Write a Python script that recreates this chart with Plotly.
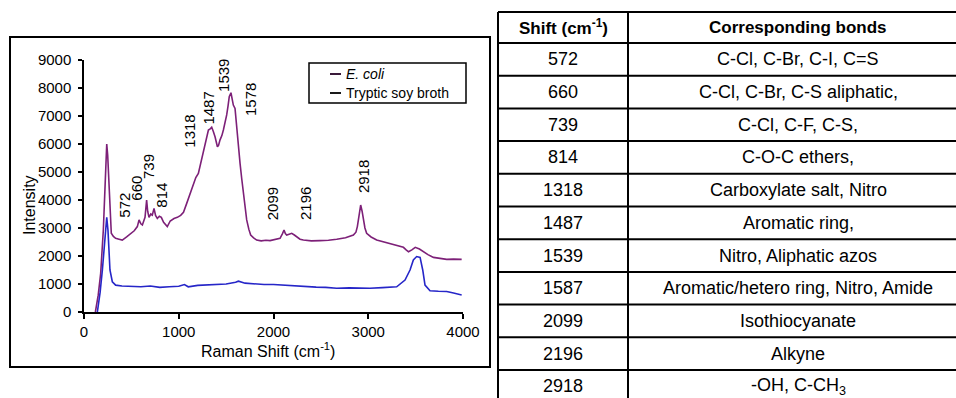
import plotly.graph_objects as go

# ---------------- data ----------------
ecoli_x = [120, 150, 176, 204, 220, 229, 240, 250, 262, 274, 288, 310, 334, 370, 404, 450, 493, 530, 563, 581,
           600, 616, 644, 661, 672, 686, 705, 721, 739, 755, 774, 795, 816, 840, 879, 910, 950, 985, 1020, 1050,
           1084, 1120, 1154, 1180, 1207, 1235, 1260, 1290, 1313, 1335, 1348, 1365, 1383, 1408, 1420, 1435, 1455,
           1471, 1490, 1506, 1520, 1533, 1551, 1565, 1576, 1594, 1612, 1630, 1647, 1665, 1682, 1700, 1717, 1740,
           1759, 1790, 1822, 1870, 1920, 1963, 2020, 2069, 2095, 2111, 2125, 2139, 2165, 2192, 2220, 2245, 2280,
           2315, 2400, 2491, 2580, 2667, 2760, 2843, 2870, 2885, 2905, 2920, 2935, 2948, 2965, 2983, 3030, 3089,
           3160, 3230, 3300, 3371, 3400, 3425, 3460, 3496, 3540, 3582, 3630, 3688, 3760, 3828, 3900, 3986]
ecoli_y = [0, 600, 1380, 2930, 4300, 5310, 6000, 5600, 4500, 3520, 2810, 2700, 2630, 2600, 2570, 2680, 2810, 2900,
           3050, 3290, 3150, 3110, 3380, 4000, 3600, 3380, 3500, 3460, 3700, 3450, 3340, 3420, 3380, 3200, 3050,
           3250, 3340, 3380, 3450, 3560, 3880, 4250, 4600, 4800, 4950, 5350, 5790, 6200, 6500, 6550, 6600, 6450,
           6260, 5900, 5950, 6140, 6300, 6500, 6750, 7040, 7350, 7690, 7830, 7600, 7390, 7270, 6500, 5900, 5310,
           4750, 4240, 3750, 3290, 2950, 2750, 2650, 2570, 2540, 2560, 2550, 2580, 2630, 2800, 2930, 2800, 2750,
           2780, 2810, 2750, 2690, 2600, 2570, 2540, 2550, 2560, 2600, 2650, 2750, 2850, 3050, 3450, 3820, 3600,
           3290, 3000, 2810, 2680, 2570, 2500, 2450, 2380, 2310, 2220, 2150, 2220, 2310, 2250, 2150, 2050, 1950,
           1900, 1880, 1890, 1880]

tsb_x = [141, 170, 194, 218, 240, 253, 274, 299, 334, 400, 500, 600, 700, 800, 900, 1000, 1060, 1100, 1200, 1300,
         1400, 1500, 1600, 1630, 1700, 1800, 1900, 2000, 2100, 2200, 2315, 2450, 2550, 2667, 2800, 2900, 3018,
         3150, 3300, 3388, 3441, 3476, 3511, 3547, 3575, 3599, 3652, 3740, 3828, 3900, 3986]
tsb_y = [0, 700, 1500, 2570, 3380, 2930, 1500, 1080, 960, 930, 920, 900, 930, 880, 900, 920, 980, 900, 950, 970,
         1000, 1000, 1060, 1100, 1030, 1000, 980, 980, 960, 940, 900, 890, 880, 850, 860, 850, 850, 870, 900, 1140,
         1500, 1860, 1980, 1950, 1500, 960, 760, 740, 730, 680, 610]

series_names = ["E. coli", "Tryptic soy broth"]

peak_labels = ["572", "660", "739", "814", "1318", "1487", "1539", "1578", "2099", "2196", "2918"]

table_header = ["Shift (cm<sup>-1</sup>)", "Corresponding bonds"]
table_shift = ["572", "660", "739", "814", "1318", "1487", "1539", "1587", "2099", "2196", "2918"]
table_bonds = ["C-Cl, C-Br, C-I, C=S", "C-Cl, C-Br, C-S aliphatic,", "C-Cl, C-F, C-S,", "C-O-C ethers,",
               "Carboxylate salt, Nitro", "Aromatic ring,", "Nitro, Aliphatic azos",
               "Aromatic/hetero ring, Nitro, Amide", "Isothiocyanate", "Alkyne", "-OH, C-CH<sub>3</sub>"]

x_ticks = [0, 1000, 2000, 3000, 4000]
y_ticks = [0, 1000, 2000, 3000, 4000, 5000, 6000, 7000, 8000, 9000]

# ---------------- layout helpers (pixel placement) ----------------
W, H = 956, 398
FONT = "Liberation Sans, Arial, sans-serif"


def px(x):
    return x / W


def py(y):
    return 1 - y / H


# label placement (data units) for the rotated peak labels
label_pos = [(433, 3800), (556, 4430), (679, 5190), (820, 4180), (1119, 6440), (1312, 7275),
             (1470, 8440), (1752, 7570), (1998, 3860), (2332, 3890), (2948, 4830)]

colors = ["#7d2078", "#2626c8"]

fig = go.Figure()
fig.add_trace(go.Scatter(x=ecoli_x, y=ecoli_y, mode="lines", name=series_names[0],
                         line=dict(color=colors[0], width=1.6), showlegend=False))
fig.add_trace(go.Scatter(x=tsb_x, y=tsb_y, mode="lines", name=series_names[1],
                         line=dict(color=colors[1], width=1.6), showlegend=False))

annotations = []


def ann(x, y, text, size, xref="paper", yref="paper", xanchor="center", angle=0):
    annotations.append(dict(x=x, y=y, xref=xref, yref=yref, text=text, textangle=angle, showarrow=False,
                            xanchor=xanchor, yanchor="middle",
                            font=dict(family=FONT, size=size, color="black")))


for lab, (lx, ly) in zip(peak_labels, label_pos):
    ann(lx, ly, lab, 15, xref="x", yref="y", angle=-90)

# axis titles
ann(px(268), py(350), "Raman Shift (cm<sup>-1</sup>)", 16)
ann(px(30), py(205), "Intensity", 16, angle=-90)

shapes = []
# outer chart frame
shapes.append(dict(type="rect", xref="paper", yref="paper", x0=px(10), x1=px(490), y0=py(367), y1=py(37),
                   line=dict(color="black", width=2)))
# legend box
shapes.append(dict(type="rect", xref="paper", yref="paper", x0=px(309), x1=px(466), y0=py(103), y1=py(63),
                   line=dict(color="black", width=1.5), fillcolor="white", layer="above"))
leg_rows = [74, 93]
leg_line_colors = ["#3a1a3a", "#1a1a1a"]
for i, name in enumerate(series_names):
    shapes.append(dict(type="line", xref="paper", yref="paper", x0=px(330), x1=px(341),
                       y0=py(leg_rows[i]), y1=py(leg_rows[i]),
                       line=dict(color=leg_line_colors[i], width=2)))
    txt = "<i>%s</i>" % name if i == 0 else name
    ann(px(344), py(leg_rows[i]), txt, 14, xanchor="left")

# table
t_left, t_div, t_right = 498, 628, 968
row_lines = [12, 43] + [43 + 32.7 * k for k in range(1, len(table_shift) + 1)]
for yl in row_lines:
    shapes.append(dict(type="line", xref="paper", yref="paper", x0=px(t_left), x1=px(t_right),
                       y0=py(yl), y1=py(yl), line=dict(color="black", width=2)))
for xl in [t_left, t_div, t_right]:
    shapes.append(dict(type="line", xref="paper", yref="paper", x0=px(xl), x1=px(xl),
                       y0=py(row_lines[0]), y1=py(row_lines[-1]), line=dict(color="black", width=2)))

c1 = (t_left + t_div) / 2
c2 = (t_div + t_right) / 2
hy = (row_lines[0] + row_lines[1]) / 2
ann(px(c1), py(hy), "<b>%s</b>" % table_header[0], 17)
ann(px(c2), py(hy), "<b>%s</b>" % table_header[1], 17)
for i, (s, b) in enumerate(zip(table_shift, table_bonds)):
    ry = (row_lines[i + 1] + row_lines[i + 2]) / 2
    ann(px(c1), py(ry), s, 18)
    ann(px(c2), py(ry), b, 18)

fig.update_layout(
    width=W, height=H,
    margin=dict(l=0, r=0, t=0, b=0, pad=0, autoexpand=False),
    paper_bgcolor="white", plot_bgcolor="white",
    showlegend=False,
    xaxis=dict(domain=[px(84), px(463)], range=[0, 4000], tickvals=x_ticks, showgrid=False, zeroline=False,
               showline=True, linecolor="black", linewidth=1.5, ticks="outside", ticklen=5, tickwidth=1.5,
               tickcolor="black", tickfont=dict(family=FONT, size=15, color="black"), ticklabelstandoff=0,
               fixedrange=True),
    yaxis=dict(domain=[1 - 312 / H, 1 - 60 / H], range=[0, 9000], tickvals=y_ticks, showgrid=False,
               zeroline=False, showline=True, linecolor="black", linewidth=1.5, ticks="outside", ticklen=4,
               tickwidth=1.5, tickcolor="black", tickfont=dict(family=FONT, size=15, color="black"),
               ticklabelstandoff=4, fixedrange=True),
    shapes=shapes,
    annotations=annotations,
)

fig.write_html("out.html")
